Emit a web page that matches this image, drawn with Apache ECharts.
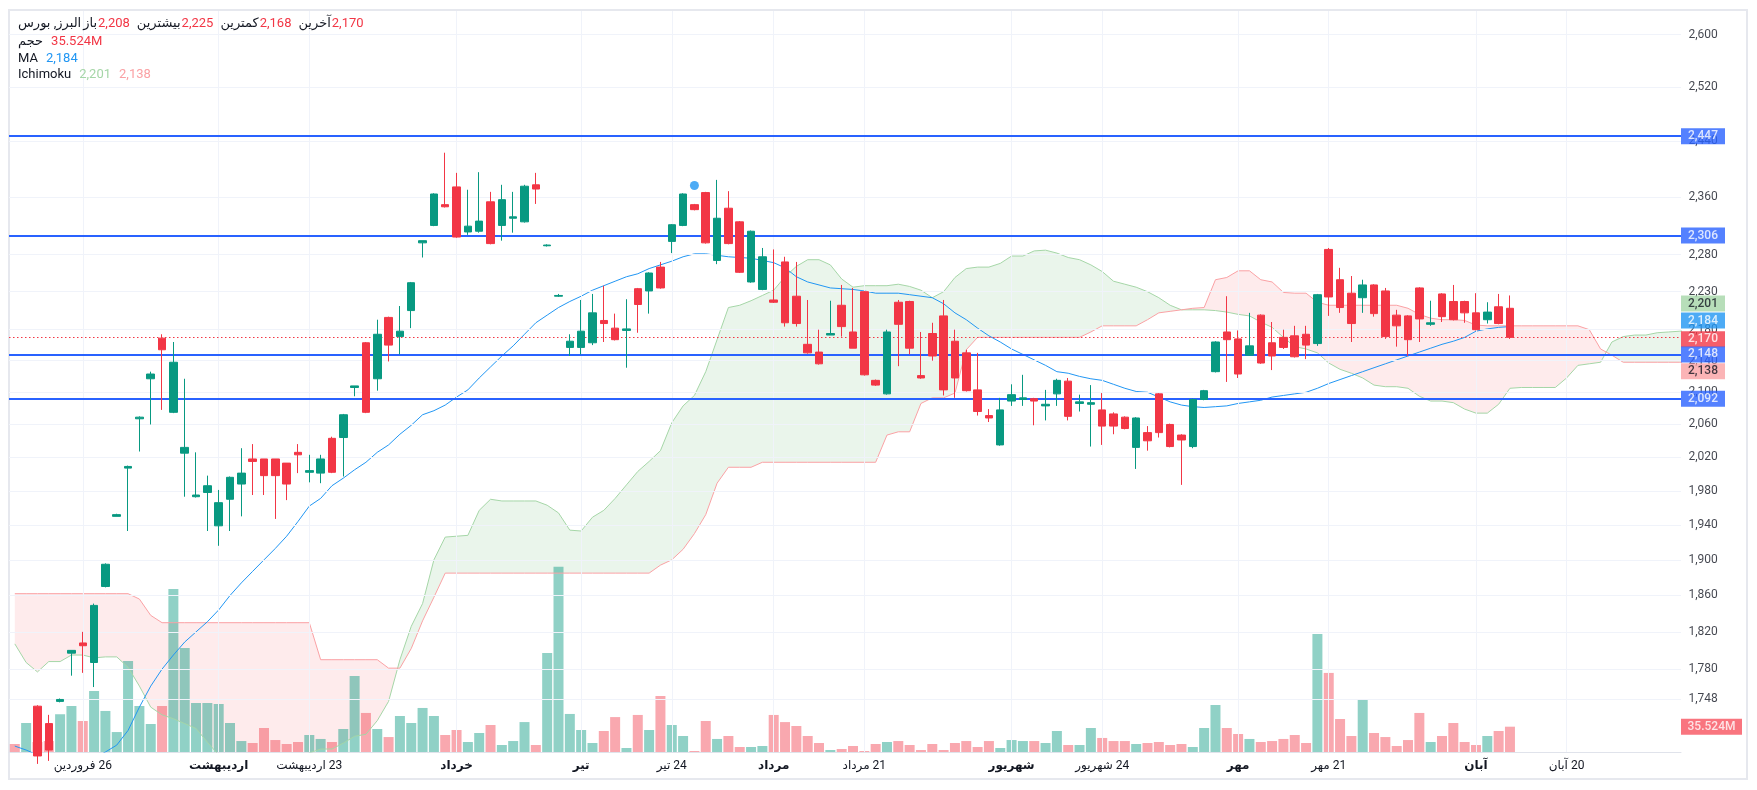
<!DOCTYPE html>
<html><head><meta charset="utf-8">
<script src="https://cdn.jsdelivr.net/npm/echarts@6/dist/echarts.min.js"></script>
<style>html,body{margin:0;padding:0;background:#fff;}#c{width:1757px;height:790px;}</style>
</head><body><div id="c"></div>
<script>
// ---------- data ----------
const opens  = [1672,1662,1741,1723,1746,1797,1808,1787,1870,1950,2007,2067,2117,2169,2075,2025,1973,1978,1939,1970,1988,2018,2018,2018,2013,2026,2002,2001,2043,2044,2106,2163,2117,2196,2171,2205,2296,2320,2349,2374,2311,2312,2353,2320,2330,2325,2377,2292,2224,2157,2157,2163,2192,2182,2179,2234,2231,2263,2298,2320,2349,2366,2272,2344,2325,2243,2233,2219,2270,2224,2161,2151,2173,2212,2177,2230,2115,2098,2216,2217,2121,2175,2198,2165,2150,2103,2071,2035,2089,2091,2092,2083,2098,2114,2086,2085,2078,2073,2069,2032,2050,2098,2060,2047,2033,2091,2126,2177,2168,2147,2199,2163,2170,2172,2174,2162,2287,2246,2228,2222,2239,2231,2199,2198,2235,2187,2227,2217,2217,2202,2193,2210,2208];
const closes = [1660,1688,1690,1696,1748,1800,1805,1849,1895,1952,2009,2069,2123,2154,2138,2032,1975,1986,1966,1996,2001,2015,1998,1998,1988,2023,2004,2018,2002,2072,2108,2075,2174,2160,2178,2242,2299,2364,2346,2304,2319,2326,2295,2356,2332,2375,2371,2293,2225,2165,2178,2202,2188,2167,2181,2213,2255,2235,2321,2364,2342,2296,2330,2295,2256,2312,2277,2216,2189,2188,2150,2136,2175,2184,2156,2122,2109,2177,2187,2156,2118,2146,2103,2118,2102,2076,2068,2078,2097,2093,2089,2085,2115,2070,2088,2087,2058,2058,2055,2068,2040,2050,2033,2041,2091,2102,2164,2167,2123,2159,2137,2146,2157,2145,2160,2226,2223,2209,2188,2239,2201,2171,2185,2167,2194,2189,2197,2193,2202,2180,2203,2188,2170];
const lows   = [1655,1658,1682,1685,1745,1773,1776,1761,1869,1950,1933,2027,2060,2078,2074,1973,1972,1933,1916,1933,1950,1975,1975,1947,1969,2001,1990,1989,2001,1997,2095,2074,2102,2139,2148,2182,2276,2319,2345,2303,2307,2310,2294,2299,2310,2324,2350,2291,2223,2146,2148,2160,2164,2166,2131,2176,2201,2234,2282,2319,2341,2295,2267,2294,2255,2242,2232,2215,2184,2184,2149,2135,2173,2171,2156,2121,2108,2097,2133,2148,2117,2140,2096,2093,2101,2071,2063,2034,2083,2083,2059,2065,2083,2065,2076,2033,2035,2048,2054,2006,2028,2044,2032,1987,2031,2090,2125,2113,2118,2146,2136,2128,2155,2144,2142,2159,2198,2202,2164,2202,2197,2168,2158,2146,2164,2185,2190,2192,2189,2179,2188,2187,2168];
const highs  = [1676,1690,1742,1732,1749,1800,1820,1851,1896,1953,2010,2070,2126,2174,2164,2117,2026,1998,1981,1997,2031,2036,2018,2018,2013,2036,2023,2023,2045,2073,2108,2164,2193,2197,2211,2243,2299,2365,2423,2394,2370,2395,2367,2377,2367,2377,2394,2294,2227,2174,2219,2227,2238,2201,2220,2235,2256,2270,2322,2365,2350,2367,2384,2368,2326,2313,2289,2287,2277,2270,2219,2180,2218,2239,2235,2231,2116,2180,2219,2218,2177,2189,2219,2180,2154,2150,2079,2093,2110,2122,2093,2103,2117,2118,2097,2109,2099,2075,2070,2069,2058,2099,2061,2048,2092,2103,2165,2224,2179,2202,2200,2190,2180,2185,2185,2227,2289,2262,2251,2246,2240,2235,2206,2199,2236,2218,2228,2239,2218,2228,2216,2227,2225];
const volumes = [11.2,40.7,14,15.4,53,64.6,43.5,85.6,57.6,28,127.8,64.6,39.3,64.6,228.9,146,68.8,68.8,67.4,40.7,15.4,12.6,33.7,16.8,11.2,14,23.9,18.3,14,32.3,106.7,54.8,32.3,21,50.5,40.7,61.8,50.5,23.9,30.9,14,26.7,37.9,9.8,15.4,42,9.8,139,260,53.4,30.9,12.6,29.5,49,5.6,52,30.9,78.6,37.9,22.5,1.4,43.5,18.3,22.5,7,7,8.4,52,42,36.5,22.5,12.6,2.8,4.2,8.4,1.4,11.2,14,15.4,9.8,2.8,11.2,2.8,12.6,15.4,7,15.4,5.6,16.8,15.4,15.4,12.6,29.5,9.8,9.8,33.7,19.7,15.4,15.4,11.2,12.6,14,9.8,11.2,7,33.7,66,33.7,25.3,18.3,14,15.4,18.3,23.9,12.6,165.7,111,46.3,22.5,73,26.7,21,8.4,16.8,54.8,14,22.5,40.7,14,9.8,22.5,29.5,35.524];
const maValues = [1700,1696,1691,1687,1685,1684,1685,1688,1694,1701,1716,1740,1762,1780,1795,1809,1820,1831,1844,1860,1874,1887,1900,1913,1927,1944,1962,1971,1986,1995,2005,2014,2026,2035,2048,2059,2072,2077,2084,2094,2103,2118,2132,2146,2159,2174,2189,2199,2209,2217,2224,2232,2238,2244,2250,2254,2261,2266,2271,2277,2281,2281,2279,2277,2276,2275,2272,2269,2262,2250,2243,2239,2235,2234,2233,2231,2228,2228,2228,2226,2224,2222,2214,2202,2193,2182,2172,2164,2155,2148,2141,2134,2126,2124,2120,2117,2115,2110,2105,2101,2100,2094,2088,2084,2082,2081,2082,2083,2086,2088,2090,2094,2096,2098,2100,2105,2111,2116,2121,2126,2131,2136,2141,2146,2151,2156,2161,2165,2170,2178,2181,2183,2184];
const senkouA = [1807,1787,1777,1788,1788,1795,1795,1792,1793,1793,1782,1762,1740,1732,1728,1723,1718,1704,1691,1685,1680,1678,1678,1680,1683,1688,1693,1697,1697,1703,1710,1712,1726,1746,1790,1826,1851,1900,1926,1927,1928,1957,1970,1968,1968,1968,1968,1963,1954,1934,1933,1949,1957,1971,1987,2003,2015,2028,2062,2083,2096,2126,2167,2209,2212,2218,2225,2232,2250,2264,2273,2273,2266,2247,2236,2238,2238,2238,2240,2237,2232,2222,2230,2249,2261,2263,2263,2268,2278,2278,2285,2286,2282,2276,2273,2266,2257,2244,2240,2236,2230,2222,2212,2206,2206,2206,2205,2203,2200,2198,2190,2183,2170,2158,2155,2150,2137,2129,2124,2118,2109,2107,2107,2105,2095,2089,2089,2087,2079,2074,2074,2085,2105,2106,2106,2106,2106,2118,2134,2136,2138,2164,2171,2173,2173,2176,2177,2178,2179];
const senkouB = [1862,1862,1862,1862,1862,1862,1862,1862,1862,1862,1862,1856,1838,1830,1830,1830,1830,1830,1830,1830,1830,1830,1830,1830,1830,1830,1830,1790,1790,1790,1790,1790,1790,1781,1781,1802,1832,1858,1885,1885,1885,1885,1885,1885,1885,1885,1885,1885,1885,1885,1885,1885,1885,1885,1885,1885,1885,1894,1900,1912,1930,1952,1989,2008,2008,2008,2014,2014,2014,2014,2014,2014,2014,2014,2014,2014,2014,2047,2051,2051,2086,2093,2093,2099,2154,2170,2170,2170,2170,2170,2170,2170,2170,2170,2170,2177,2185,2185,2185,2185,2193,2202,2204,2206,2208,2209,2246,2249,2258,2258,2246,2243,2229,2228,2228,2216,2212,2212,2212,2212,2212,2212,2212,2208,2200,2195,2193,2193,2192,2186,2185,2185,2185,2185,2185,2185,2185,2185,2185,2180,2155,2147,2138,2138,2138,2138,2138,2138,2138];
const priceTicks = [2600,2520,2440,2360,2280,2230,2180,2140,2100,2060,2020,1980,1940,1900,1860,1820,1780,1748];
const levelLines = [2447,2306,2148,2092];
const timeLabelIdx  = [6,18,26,39,50,58,67,75,88,96,108,116,129,137];
const timeLabelText = ['فروردین\u200E 26','اردیبهشت','اردیبهشت\u200E 23','خرداد','تیر','تیر\u200E 24','مرداد','مرداد\u200E 21','شهریور','شهریور\u200E 24','مهر','مهر\u200E 21','آبان','آبان\u200E 20'];
const timeLabelBold = [false,true,false,true,true,false,true,false,true,false,true,false,true,false];
const markerIdx = 60, markerPrice = 2376;
const lastOpen = 2208, lastHigh = 2225, lastLow = 2168, lastClose = 2170;
const lastVolume = 35.524, lastMA = 2184, lastSpanA = 2201, lastSpanB = 2138;

// ---------- layout / style ----------
const X_MIN = -0.512, X_MAX = 147.1;
const Y_MIN = 1694, Y_MAX = 2637;
const VOL_MAX = 1040;
const FONT = 'Roboto, "DejaVu Sans", sans-serif';
const UP = '#089981', DOWN = '#f23645';
const fmt = v => Number(v).toLocaleString('en-US');
const GRID = {left: 9, right: 76, top: 11, bottom: 38};

const candleData = opens.map((o, i) => [i, o, closes[i], lows[i], highs[i]]);
const volData = volumes.map((v, i) => ({value: [i, v], itemStyle: {color: closes[i] >= opens[i] ? 'rgba(8,153,129,0.45)' : 'rgba(242,54,69,0.43)'}}));
const maData = maValues.map((v, i) => [i, v]);
const spanAData = senkouA.map((v, i) => [i, v]);
const spanBData = senkouB.map((v, i) => [i, v]);

function renderCloud(params, api) {
  const G = 'rgba(67,160,71,0.11)', R = 'rgba(242,54,69,0.10)';
  const n = Math.min(senkouA.length, senkouB.length);
  const polys = [];
  let aPts = [api.coord([0, senkouA[0]])], bPts = [api.coord([0, senkouB[0]])];
  let s = senkouA[0] - senkouB[0] >= 0 ? 1 : -1;
  for (let i = 0; i < n - 1; i++) {
    const pA0 = api.coord([i, senkouA[i]]), pB0 = api.coord([i, senkouB[i]]);
    const pA1 = api.coord([i + 1, senkouA[i + 1]]), pB1 = api.coord([i + 1, senkouB[i + 1]]);
    const d1 = senkouA[i + 1] - senkouB[i + 1];
    const s1 = d1 > 0 ? 1 : (d1 < 0 ? -1 : s);
    if (s1 !== s) {
      const e0 = pA0[1] - pB0[1], e1 = pA1[1] - pB1[1];
      const t = e0 / (e0 - e1);
      const X = [pA0[0] + t * (pA1[0] - pA0[0]), pA0[1] + t * (pA1[1] - pA0[1])];
      aPts.push(X);
      polys.push({pts: aPts.concat(bPts.slice().reverse()), s});
      aPts = [X]; bPts = [X]; s = s1;
    }
    aPts.push(pA1); bPts.push(pB1);
  }
  polys.push({pts: aPts.concat(bPts.slice().reverse()), s});
  return {type: 'group', children: polys.map(p => ({type: 'polygon', shape: {points: p.pts}, style: {fill: p.s > 0 ? G : R}, silent: true}))};
}

const boxItems = [
  {v: levelLines[0], bg: '#2962ff', fg: '#fff', dy: 0},
  {v: levelLines[1], bg: '#2962ff', fg: '#fff', dy: 0},
  {v: lastSpanA, bg: '#a5d6a7', fg: '#131722', dy: -10},
  {v: lastMA, bg: '#2196f3', fg: '#fff', dy: -6},
  {v: lastClose, bg: '#f23645', fg: '#fff', dy: 2},
  {v: levelLines[2], bg: '#2962ff', fg: '#fff', dy: 0},
  {v: lastSpanB, bg: '#faa1a4', fg: '#131722', dy: 9},
  {v: levelLines[3], bg: '#2962ff', fg: '#fff', dy: 0}
];

const base = {fontSize: 13, fontFamily: FONT, fontWeight: 'normal'};
const rich = {
  t: Object.assign({color: '#131722', padding: [0, 1, 0, 0]}, base),
  s: Object.assign({color: '#131722', padding: [0, 2, 0, 0]}, base),
  r: Object.assign({color: '#f23645', padding: [0, 7, 0, 0]}, base),
  b: Object.assign({color: '#2196f3', padding: [0, 8, 0, 0]}, base),
  g: Object.assign({color: '#a5d6a7', padding: [0, 8, 0, 0]}, base),
  p: Object.assign({color: '#faa1a4', padding: [0, 8, 0, 0]}, base),
  n: Object.assign({color: '#131722', padding: [0, 8, 0, 0]}, base)
};
const titleStyle = {rich, lineHeight: 16, fontWeight: 'normal', fontSize: 13, fontFamily: FONT};

const option = {
  animation: false,
  backgroundColor: '#ffffff',
  textStyle: {fontFamily: FONT},
  title: [
    {left: 18, top: 16, padding: 0, text: '{s|البرز, بورس}{t|باز}{r|' + fmt(lastOpen) + '}{t|بیشترین}{r|' + fmt(lastHigh) + '}{t|کمترین}{r|' + fmt(lastLow) + '}{t|آخرین}{r|' + fmt(lastClose) + '}', textStyle: titleStyle},
    {left: 18, top: 34, padding: 0, text: '{n|حجم}{r|' + lastVolume.toFixed(3) + 'M}', textStyle: titleStyle},
    {left: 18, top: 50.5, padding: 0, text: '{n|MA}{b|' + fmt(lastMA) + '}', textStyle: titleStyle},
    {left: 18, top: 67, padding: 0, text: '{n|Ichimoku}{g|' + fmt(lastSpanA) + '}{p|' + fmt(lastSpanB) + '}', textStyle: titleStyle}
  ],
  graphic: [
    {type: 'rect', silent: true, z: -10, shape: {x: 9, y: 10, width: 1738, height: 769}, style: {fill: 'none', stroke: '#e6e8ee', lineWidth: 2}}
  ],
  grid: [Object.assign({}, GRID), Object.assign({}, GRID)],
  xAxis: [
    {type: 'value', gridIndex: 0, min: X_MIN, max: X_MAX, splitLine: {show: false}, axisTick: {show: false},
     axisLine: {show: true, lineStyle: {color: '#e0e3eb', width: 1}},
     axisLabel: {customValues: timeLabelIdx, margin: 8, color: '#131722', fontSize: 12, fontFamily: FONT,
       formatter: v => { const k = timeLabelIdx.indexOf(Math.round(v)); if (k < 0) return ''; return timeLabelBold[k] ? '{b|' + timeLabelText[k] + '}' : timeLabelText[k]; },
       rich: {b: {fontWeight: 'bold', fontSize: 12, color: '#131722', fontFamily: FONT}}}},
    {type: 'value', gridIndex: 1, min: X_MIN, max: X_MAX, show: false}
  ],
  yAxis: [
    {type: 'log', logBase: 10, gridIndex: 0, min: Y_MIN, max: Y_MAX, position: 'right', axisLabel: {show: false}, axisTick: {show: false}, axisLine: {show: false}, splitLine: {show: false}},
    {type: 'value', gridIndex: 1, min: 0, max: VOL_MAX, show: false, splitLine: {show: false}}
  ],
  series: [
    {name: 'grid', type: 'line', xAxisIndex: 0, yAxisIndex: 0, data: [], z: 0, silent: true,
     markLine: {silent: true, symbol: ['none', 'none'], label: {show: false}, animation: false,
       lineStyle: {color: '#f0f3fa', width: 1, type: 'solid'},
       data: priceTicks.map(v => ({yAxis: v})).concat(timeLabelIdx.map(i => ({xAxis: i})))}},
    {name: 'cloud', type: 'custom', xAxisIndex: 0, yAxisIndex: 0, data: [[0, senkouA[0]]], renderItem: renderCloud, clip: true, z: 1, silent: true},
    {name: 'volume', type: 'bar', xAxisIndex: 1, yAxisIndex: 1, data: volData, barWidth: 10, z: 2, silent: true},
    {name: 'spanA', type: 'line', xAxisIndex: 0, yAxisIndex: 0, data: spanAData, symbol: 'none', lineStyle: {color: '#a5d6a7', width: 1}, z: 3, clip: true, silent: true},
    {name: 'spanB', type: 'line', xAxisIndex: 0, yAxisIndex: 0, data: spanBData, symbol: 'none', lineStyle: {color: '#faa1a4', width: 1}, z: 3, clip: true, silent: true},
    {name: 'MA', type: 'line', xAxisIndex: 0, yAxisIndex: 0, data: maData, symbol: 'none', lineStyle: {color: '#2196f3', width: 1}, z: 4, clip: true, silent: true},
    {name: 'price', type: 'candlestick', xAxisIndex: 0, yAxisIndex: 0, data: candleData, encode: {x: 0, y: [1, 2, 3, 4]}, barWidth: 8, clip: true, z: 5,
     itemStyle: {color: UP, color0: DOWN, borderColor: UP, borderColor0: DOWN, borderWidth: 1}},
    {name: 'levels', type: 'line', xAxisIndex: 0, yAxisIndex: 0, data: [], z: 6, silent: true,
     markLine: {silent: true, symbol: ['none', 'none'], label: {show: false}, animation: false,
       data: levelLines.map(v => ({yAxis: v, lineStyle: {color: '#2962ff', width: 2, type: 'solid'}}))
         .concat([{yAxis: lastClose, lineStyle: {color: '#f23645', width: 1, type: [1.5, 2.5]}}])}},
    {name: 'marker', type: 'scatter', xAxisIndex: 0, yAxisIndex: 0, data: [[markerIdx, markerPrice]], symbolSize: 9, itemStyle: {color: '#2196f3'}, z: 7, silent: true},
    {name: 'ticks', type: 'scatter', xAxisIndex: 0, yAxisIndex: 0, clip: false, silent: true, z: 8,
     data: priceTicks.map(v => [X_MAX, v]), symbol: 'rect', symbolSize: 1, itemStyle: {color: 'rgba(0,0,0,0)'},
     label: {show: true, position: 'right', distance: 7, formatter: p => fmt(p.value[1]), color: '#131722', fontSize: 12, fontFamily: FONT}},
    {name: 'boxes', type: 'scatter', xAxisIndex: 0, yAxisIndex: 0, clip: false, silent: true, z: 10,
     symbol: 'rect', symbolSize: [44, 16],
     data: boxItems.map(b => ({value: [X_MAX, b.v], symbolOffset: [22, b.dy], itemStyle: {color: b.bg}, label: {color: b.fg}})),
     label: {show: true, position: 'inside', formatter: p => fmt(p.value[1]), fontSize: 12, fontFamily: FONT, fontWeight: 500}},
    {name: 'volbox', type: 'scatter', xAxisIndex: 1, yAxisIndex: 1, clip: false, silent: true, z: 10,
     symbol: 'rect', symbolSize: [61, 16],
     data: [{value: [X_MAX, lastVolume], symbolOffset: [30.5, 0]}], itemStyle: {color: '#f7525f'},
     label: {show: true, position: 'inside', formatter: p => p.value[1].toFixed(3) + 'M', color: '#fff', fontSize: 12, fontFamily: FONT, fontWeight: 500}}
  ]
};

const chart = echarts.init(document.getElementById('c'), null, {renderer: 'canvas'});
chart.setOption(option);
</script>
</body></html>
